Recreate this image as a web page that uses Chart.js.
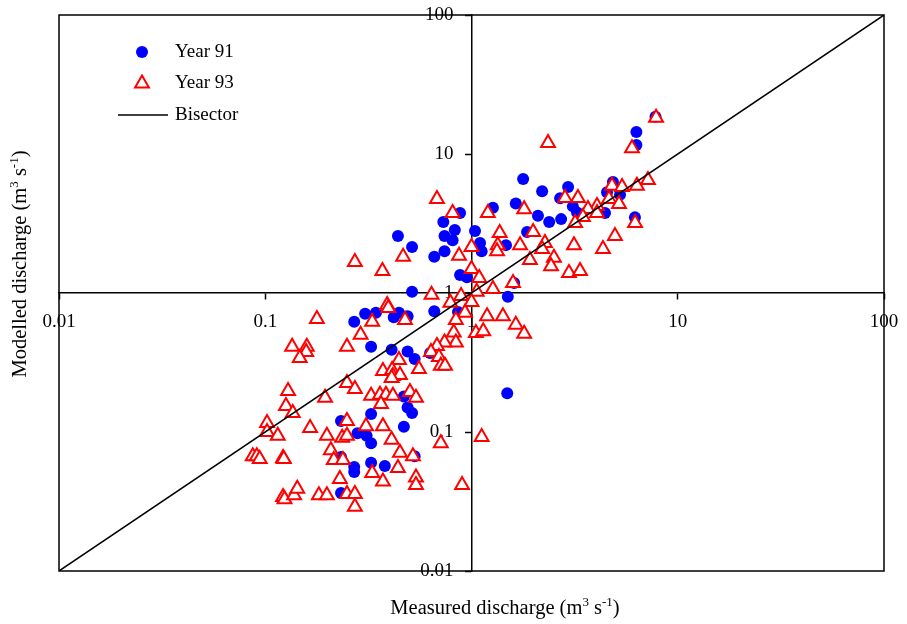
<!DOCTYPE html>
<html>
<head>
<meta charset="utf-8">
<title>Modelled vs measured discharge</title>
<script src="https://cdn.jsdelivr.net/npm/chart.js@4.4.1/dist/chart.umd.min.js"></script>
<style>
  html, body { margin: 0; padding: 0; background: #fff; }
  #wrap { width: 907px; height: 624px; }
</style>
</head>
<body>
<div id="wrap"><canvas id="chart" width="907" height="624"></canvas></div>
<script>
// Measured vs modelled discharge (m3/s).
// Year 91 = blue dots, Year 93 = red open triangles.
const Y91_MEASURED = [7.8, 6.3, 6.3, 1.78, 2.2, 2.94, 2.69, 4.85, 4.54, 5.25,
  3.1, 3.25, 2.1, 2.38, 2.72, 4.44, 6.2, 1.86, 1.27, 1.64,
  0.88, 0.73, 0.83, 0.74, 0.81, 1.04, 0.44, 0.515, 1.1, 1.12,
  1.47, 0.74, 0.66, 0.88, 0.95, 0.515, 1.5, 1.61, 0.66, 0.86,
  0.27, 0.305, 0.344, 0.42, 0.445, 0.49, 0.326, 0.41, 0.49, 0.53,
  0.63, 1.49, 0.47, 0.49, 0.515, 0.47, 0.53, 0.38, 0.326, 0.233,
  0.28, 0.31, 0.326, 0.233, 0.27, 0.27, 0.326, 0.233];
const Y91_MODELLED = [18.5, 14.4, 11.6, 6.6, 5.4, 5.8, 4.8, 6.3, 5.3, 5.1,
  4.2, 3.8, 3.6, 3.24, 3.4, 3.76, 3.5, 2.75, 4.1, 4.4,
  3.76, 3.24, 2.84, 2.57, 2.4, 2.79, 2.57, 2.14, 2.29, 2.0,
  2.21, 2.0, 1.82, 1.35, 1.3, 1.02, 0.94, 1.18, 0.74, 0.73,
  0.62, 0.71, 0.72, 0.67, 0.72, 0.68, 0.41, 0.39, 0.38, 0.335,
  0.37, 0.19, 0.18, 0.15, 0.137, 0.109, 0.067, 0.057, 0.135, 0.12,
  0.098, 0.094, 0.083, 0.066, 0.056, 0.0515, 0.06, 0.0364];

const Y93_MEASURED = [7.85, 2.35, 6.0, 7.17, 6.34, 4.8, 5.37, 4.64, 5.19, 2.84,
  3.28, 1.8, 4.06, 3.67, 4.06, 3.47, 3.18, 6.21, 1.99, 4.96,
  1.72, 2.27, 2.2, 3.14, 4.34, 2.51, 1.92, 2.43, 2.97, 3.36,
  0.68, 0.81, 1.2, 1.37, 1.34, 1.33, 1.0,
  0.87, 0.466, 0.37, 1.0, 1.09, 1.59, 1.27, 0.64, 0.89, 1.06, 0.79, 1.0,
  0.39, 0.395,
  0.93, 0.476, 0.84, 1.19, 1.42, 1.64, 1.8, 0.82, 1.05,
  1.14, 0.84, 0.74, 0.68, 0.636, 0.695, 0.445, 0.556, 0.71, 0.744,
  0.372, 0.412, 0.416, 0.45, 0.41, 0.503, 0.538, 0.326, 0.36, 0.385,
  0.416, 0.364, 0.372, 0.41, 0.71, 1.12, 0.45, 0.52, 0.44, 0.372,
  0.538, 0.538, 0.9, 0.272, 0.33, 0.178, 0.29, 0.135, 0.159, 0.158,
  0.147, 0.249, 0.249, 0.272, 0.129, 0.195, 0.126, 0.136, 0.249, 0.102,
  0.165, 0.308, 0.102, 0.115, 0.199, 0.236, 0.249, 0.208, 0.087, 0.091,
  0.094, 0.122, 0.123, 0.215, 0.238, 0.33, 0.23, 0.249, 0.272, 0.272,
  0.122, 0.124, 0.138, 0.143, 0.182, 0.199];
const Y93_MODELLED = [18.2, 12.0, 11.0, 6.5, 5.9, 5.9, 5.8, 4.75, 4.37, 4.82,
  4.82, 4.0, 4.23, 4.02, 3.76, 3.52, 3.19, 3.19, 2.75, 2.57,
  2.21, 2.29, 2.07, 2.21, 2.07, 1.79, 1.73, 1.56, 1.39, 1.44,
  4.75, 3.76, 3.76, 2.7, 2.21, 2.0, 2.14,
  1.85, 1.82, 1.44, 1.49, 1.28, 1.18, 1.07, 0.97, 0.95, 1.02, 0.85, 0.86,
  0.82, 0.78,
  0.72, 0.64, 0.64, 0.68, 0.68, 0.59, 0.51, 0.52, 0.515,
  0.53, 0.44, 0.44, 0.416, 0.376, 0.347, 0.33, 0.284, 0.3, 0.3,
  0.275, 0.279, 0.253, 0.257, 0.245, 0.194, 0.176, 0.182, 0.185, 0.185,
  0.182, 0.159, 0.11, 0.088, 0.083, 0.092, 0.071, 0.067, 0.055, 0.044,
  0.047, 0.0416, 0.0416, 1.67, 0.62, 0.65, 0.5, 0.41, 0.41, 0.376,
  0.34, 0.41, 0.225, 0.204, 0.197, 0.176, 0.154, 0.137, 0.12, 0.116,
  0.107, 0.11, 0.1, 0.094, 0.094, 0.091, 0.094, 0.074, 0.067, 0.067,
  0.064, 0.065, 0.064, 0.063, 0.063, 0.0507, 0.046, 0.0358, 0.0358, 0.029,
  0.034, 0.0328, 0.035, 0.039, 0.035, 0.035];

const BISECTOR = [0.01, 100];
const DECADES = [0.01, 0.1, 1, 10, 100];
const SERIES_LABELS = ['Year 91', 'Year 93', 'Bisector'];

const FONT = '"Liberation Serif", "Times New Roman", Times, serif';
const TITLE_X = [['Measured discharge (m', false], ['3', true], [' s', false], ['-1', true], [')', false]];
const TITLE_Y = [['Modelled discharge (m', false], ['3', true], [' s', false], ['-1', true], [')', false]];

const pairs = (xs, ys) => xs.map((x, i) => ({ x, y: ys[i] }));

// text with small raised pieces (m3 s-1), centred on cx
function drawRich(ctx, parts, cx, baseY) {
  const w = parts.map(([t, sup]) => {
    ctx.font = (sup ? 13 : 20.5) + 'px ' + FONT;
    return ctx.measureText(t).width;
  });
  let x = cx - w.reduce((a, b) => a + b, 0) / 2;
  parts.forEach(([t, sup], i) => {
    ctx.font = (sup ? 13 : 20.5) + 'px ' + FONT;
    ctx.fillText(t, x, sup ? baseY - 8 : baseY);
    x += w[i];
  });
}

// box round the plot area, like the Excel frame
const frame = {
  id: 'frame',
  beforeDatasetsDraw(chart) {
    const { ctx, chartArea: a } = chart;
    ctx.save();
    ctx.strokeStyle = '#000';
    ctx.lineWidth = 1.5;
    ctx.strokeRect(a.left, a.top, a.right - a.left, a.bottom - a.top);
    ctx.restore();
  },
};

// axis titles sit on the frame, not on the centred axes
const axisTitles = {
  id: 'axisTitles',
  afterDraw(chart) {
    const ctx = chart.ctx;
    ctx.save();
    ctx.fillStyle = '#000';
    ctx.textAlign = 'left';
    ctx.textBaseline = 'alphabetic';
    drawRich(ctx, TITLE_X, 505, 614);
    ctx.translate(26, 264);
    ctx.rotate(-Math.PI / 2);
    drawRich(ctx, TITLE_Y, 0, 0);
    ctx.restore();
  },
};

// legend inside the plot, top-left
const insideLegend = {
  id: 'insideLegend',
  afterDraw(chart) {
    const { ctx, chartArea: a } = chart;
    const drawPoint = Chart.helpers.drawPoint;
    ctx.save();
    chart.data.datasets.forEach((ds, i) => {
      const cy = a.top + 37 + i * 31.5;
      const cx = a.left + 83;
      if (ds.showLine) {
        ctx.strokeStyle = ds.borderColor;
        ctx.lineWidth = ds.borderWidth;
        ctx.beginPath();
        ctx.moveTo(cx - 24, cy);
        ctx.lineTo(cx + 26, cy);
        ctx.stroke();
      } else {
        ctx.fillStyle = ds.pointBackgroundColor;
        ctx.strokeStyle = ds.pointBorderColor;
        ctx.lineWidth = ds.pointBorderWidth;
        drawPoint(ctx, {
          pointStyle: ds.pointStyle,
          radius: ds.pointRadius,
          borderWidth: ds.pointBorderWidth,
          rotation: 0,
        }, cx, cy);
      }
      ctx.fillStyle = '#000';
      ctx.font = '19px ' + FONT;
      ctx.textAlign = 'left';
      ctx.textBaseline = 'middle';
      ctx.fillText(ds.label, a.left + 116, cy);
    });
    ctx.restore();
  },
};

// centred axes take no layout room, so the frame sits where the padding says
function noRoom(s) {
  if (s.isHorizontal()) s.height = 0; else s.width = 0;
  s.paddingLeft = s.paddingRight = s.paddingTop = s.paddingBottom = 0;
}

function centredLogAxis(crossAt, label) {
  return {
    type: 'logarithmic',
    min: DECADES[0],
    max: DECADES[DECADES.length - 1],
    position: crossAt,
    afterBuildTicks: s => { s.ticks = DECADES.map(v => ({ value: v })); },
    afterFit: noRoom,
    grid: { display: true, drawOnChartArea: false, drawTicks: true, tickLength: 6, tickColor: '#000', tickWidth: 1.5 },
    border: { display: true, color: '#000', width: 1.5 },
    ticks: {
      autoSkip: false,
      maxRotation: 0,
      padding: 12,
      color: '#000',
      font: { family: FONT, size: 19 },
      callback: label,
    },
  };
}

// y labels are right-aligned on the axis itself; the trailing gap keeps them clear of it
const xAxis = centredLogAxis({ y: 1 }, v => String(v));
const yAxis = centredLogAxis({ x: 1 }, v => String(v) + '\u2002 \u2009');

new Chart(document.getElementById('chart'), {
  type: 'scatter',
  data: {
    datasets: [
      {
        label: SERIES_LABELS[0],
        data: pairs(Y91_MEASURED, Y91_MODELLED),
        pointStyle: 'circle',
        pointRadius: 6,
        pointBackgroundColor: '#0000ff',
        pointBorderColor: '#0000ff',
        pointBorderWidth: 0,
        order: 3,
      },
      {
        label: SERIES_LABELS[1],
        data: pairs(Y93_MEASURED, Y93_MODELLED),
        pointStyle: 'triangle',
        pointRadius: 8,
        pointBackgroundColor: '#ffffff',
        pointBorderColor: '#ff0000',
        pointBorderWidth: 2,
        order: 2,
      },
      {
        label: SERIES_LABELS[2],
        data: pairs(BISECTOR, BISECTOR),
        showLine: true,
        borderColor: '#000000',
        borderWidth: 1.5,
        pointRadius: 0,
        order: 1,
      },
    ],
  },
  options: {
    responsive: false,
    devicePixelRatio: 1,
    animation: false,
    layout: { padding: { left: 59, right: 23, top: 15, bottom: 53 } },
    scales: { x: xAxis, y: yAxis },
    plugins: {
      legend: { display: false },
      tooltip: { enabled: false },
    },
  },
  plugins: [frame, axisTitles, insideLegend],
});
</script>
</body>
</html>
